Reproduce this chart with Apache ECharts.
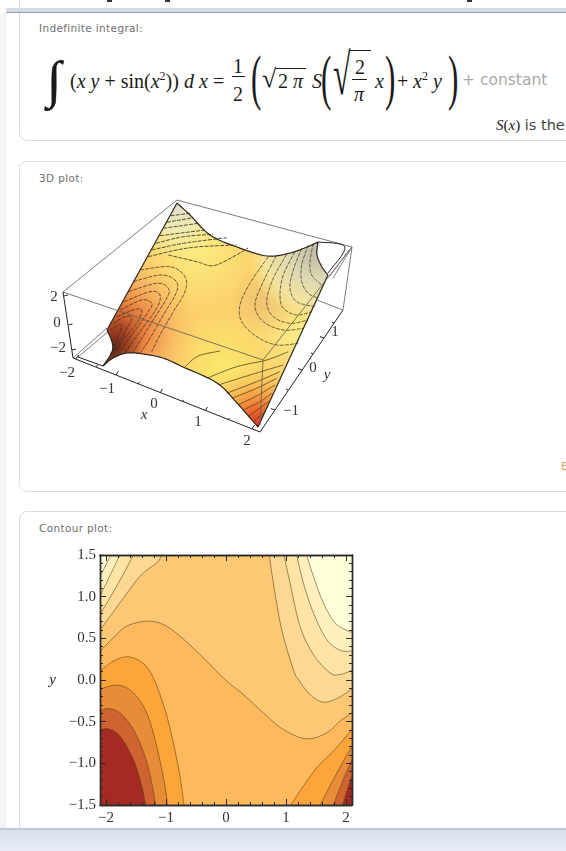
<!DOCTYPE html>
<html>
<head>
<meta charset="utf-8">
<script src="https://cdn.jsdelivr.net/npm/echarts@6/dist/echarts.min.js"></script>
<style>
  html, body { margin: 0; padding: 0; background: #fff; overflow: hidden; }
  #page { position: relative; width: 566px; height: 851px; overflow: hidden; background: #fff; filter: blur(0.4px); }
  #chart { position: absolute; left: 0; top: 0; width: 566px; height: 851px; }
  .leftstrip { position: absolute; left: 0; top: 13px; width: 6px; height: 815px; background: #f5f5f5; }
  .topbar { position: absolute; left: 6px; right: 0; top: 8px; height: 4px; background: #d6dce6; border-bottom: 1px solid #95a0ae; }
  .speck { position: absolute; top: 0; width: 5px; height: 2px; background: #333; }
  .card { position: absolute; left: 19px; width: 600px; border: 1px solid #dcdcdc; border-radius: 8px; box-sizing: border-box; }
  .title { position: absolute; left: 39px; font: 10.5px "DejaVu Sans", sans-serif; color: #6f6f6f; letter-spacing: 0.35px; white-space: pre; }
  .m { position: absolute; font-family: "Liberation Serif", serif; font-size: 20px; line-height: 1; color: #1a1a1a; white-space: pre; transform-origin: 0 50%; }
  .m sup { font-size: 12px; line-height: 0; }
  .big { font-size: 62px; transform: scaleX(.5); }
  .bar { position: absolute; background: #1a1a1a; height: 1px; }
  .gray { position: absolute; font: 15.5px "DejaVu Sans", sans-serif; color: #a9a9a9; white-space: pre; }
  .footer { position: absolute; left: 0; right: 0; top: 828px; height: 23px; border-top: 2px solid #c3cad3; box-sizing: border-box; background: linear-gradient(#d8dfee, #e8edf8); }
</style>
</head>
<body>
<div id="page">
  <div class="leftstrip"></div>
  <div class="speck" style="left:107px"></div>
  <div class="speck" style="left:165px"></div>
  <div class="speck" style="left:467px"></div>
  <div class="card" style="top:-20px;height:161px"></div>
  <div class="card" style="top:161px;height:331px"></div>
  <div class="card" style="top:511px;height:400px"></div>
  <div class="topbar"></div>

  <div class="title" style="top:22px">Indefinite integral:</div>
  <div class="title" style="top:172px">3D plot:</div>
  <div class="title" style="top:522px">Contour plot:</div>

  <div class="m" style="left:47px;top:54px;font-size:52px;font-style:italic;-webkit-text-stroke:0.4px #1a1a1a">∫</div>
  <div class="m" style="left:70px;top:71px">(<i>x y</i> + sin(<i>x</i><sup>2</sup>))</div>
  <div class="m" style="left:184px;top:71px"><i>d x</i> =</div>
  <div class="m" style="left:233px;top:56px">1</div>
  <div class="bar" style="left:232px;top:76px;width:13px"></div>
  <div class="m" style="left:233px;top:84px">2</div>
  <div class="m big" style="left:251px;top:46px">(</div>
  <div class="m" style="left:262px;top:66px;font-size:26px">√</div>
  <div class="bar" style="left:276px;top:68px;width:30px"></div>
  <div class="m" style="left:278px;top:71px">2 <i>π</i></div>
  <div class="m" style="left:312px;top:71px"><i>S</i></div>
  <div class="m big" style="left:321px;top:46px">(</div>
  <div class="m" style="left:333px;top:46px;font-size:58px;transform:scaleX(.55)">√</div>
  <div class="bar" style="left:349px;top:50px;width:22px"></div>
  <div class="m" style="left:355px;top:57px">2</div>
  <div class="bar" style="left:352px;top:79px;width:15px"></div>
  <div class="m" style="left:354px;top:84px"><i>π</i></div>
  <div class="m" style="left:375px;top:71px"><i>x</i></div>
  <div class="m big" style="left:385px;top:46px">)</div>
  <div class="m" style="left:397px;top:71px">+</div>
  <div class="m" style="left:413px;top:71px"><i>x</i><sup>2</sup> <i>y</i></div>
  <div class="m big" style="left:448px;top:46px">)</div>
  <div class="gray" style="left:462px;top:71px">+ constant</div>
  <div class="m" style="left:496px;top:117px;font-size:15px"><i>S</i>(<i>x</i>)<span style="font:14.5px 'DejaVu Sans',sans-serif;color:#444"> is the</span></div>
  <div class="title" style="left:561px;top:460px;color:#e39a5e;letter-spacing:0">E</div>

  <div id="chart"></div>
  <div class="footer"></div>
</div>

<script>
// tick labels of the contour plot
const xMajorTicks = [-2, -1, 0, 1, 2]
const xMinorTicks = [-1.8, -1.6, -1.4, -1.2, -0.8, -0.6, -0.4, -0.2, 0.2, 0.4, 0.6, 0.8, 1.2, 1.4, 1.6, 1.8]
const yMajorTicks = [-1.5, -1, -0.5, 0, 0.5, 1, 1.5]
const yMinorTicks = [-1.4, -1.3, -1.2, -1.1, -0.9, -0.8, -0.7, -0.6, -0.4, -0.3, -0.2, -0.1, 0.1, 0.2, 0.3, 0.4, 0.6, 0.7, 0.8, 0.9, 1.1, 1.2, 1.3, 1.4]

// contour lines, in (x, y)
const lineE = [[-2.1, 0.346], [-1.878, 0.506], [-1.655, 0.646], [-1.322, 0.706], [-1.045, 0.666], [-0.767, 0.526], [-0.433, 0.306], [-0.017, 0.006], [0.289, -0.174], [0.622, -0.394], [0.955, -0.594], [1.344, -0.706], [1.678, -0.634], [1.9, -0.494], [2.1, -0.394]]
const lineF = [[-2.1, 0.106], [-1.878, 0.226], [-1.628, 0.278], [-1.378, 0.198], [-1.211, 0.026], [-1.017, -0.354], [-0.878, -0.754], [-0.767, -1.154], [-0.7, -1.5]]
const lineG = [[-2.1, -0.106], [-1.794, -0.062], [-1.544, -0.154], [-1.322, -0.394], [-1.155, -0.794], [-1.017, -1.274], [-0.978, -1.5]]
const lineH = [[-2.1, -0.374], [-1.961, -0.342], [-1.767, -0.394], [-1.544, -0.594], [-1.35, -0.914], [-1.238, -1.234], [-1.172, -1.5]]
const lineI = [[-2.1, -0.602], [-1.961, -0.586], [-1.767, -0.674], [-1.544, -0.954], [-1.405, -1.274], [-1.339, -1.5]]
const lineA = [[-1.92, 1.5], [-2.1, 1.24]]
const lineB = [[-1.767, 1.5], [-1.95, 1.23], [-2.1, 1.006]]
const lineC = [[-1.544, 1.5], [-1.79, 1.166], [-2.1, 0.786]]
const lineD = [[-1.07, 1.5], [-1.155, 1.406], [-1.433, 1.245], [-1.767, 0.926], [-2.1, 0.598]]
const lineR1 = [[0.722, 1.5], [0.789, 1.166], [0.928, 0.606], [1.122, 0.126], [1.206, 0.006], [1.4, -0.174], [1.622, -0.266], [1.872, -0.214], [2.1, -0.106]]
const lineR2 = [[0.967, 1.5], [1.067, 1.166], [1.233, 0.646], [1.456, 0.306], [1.733, 0.086], [1.9, 0.066], [2.1, 0.114]]
const lineR3 = [[1.178, 1.5], [1.289, 1.166], [1.456, 0.806], [1.678, 0.486], [1.9, 0.358], [2.1, 0.346]]
const lineR4 = [[1.344, 1.5], [1.456, 1.246], [1.622, 0.926], [1.817, 0.686], [2.04, 0.586], [2.1, 0.58]]
const lineB1 = [[1.083, -1.5], [1.233, -1.334], [1.511, -1.054], [1.789, -0.854], [2.1, -0.594]]
const lineB2 = [[1.567, -1.5], [1.789, -1.194], [1.956, -0.974], [2.1, -0.794]]
const lineB3 = [[1.789, -1.5], [1.956, -1.194], [2.1, -0.954]]
const lineB4 = [[1.944, -1.5], [2.04, -1.274], [2.1, -1.154]]

// 3D plot, in the projected plane of the plot
const surfaceTop = [[137, 13], [150, 25], [170, 45], [197, 57], [227, 66], [250, 63], [267, 57], [278, 52]]
const surfaceHoleRight = [[278, 52], [277, 65], [282, 77], [288, 85]]
const surfaceEdgeRight = [[288, 85], [218, 237]]
const surfaceBottom = [[218, 237], [197, 213], [177, 193], [143, 177], [123, 168], [103, 164], [87, 163], [73, 168], [63, 176]]
const surfaceHoleLeft = [[63, 176], [72, 162], [72, 152], [67, 140]]
const surfaceEdgeLeft = [[67, 140], [137, 13]]

const meshTop = [
  [[130.7, 25.7], [150, 23.3]],
  [[126.7, 32.3], [153.3, 27.7]],
  [[123.3, 38.3], [158.3, 33.3]],
  [[120, 45.7], [165, 40]],
  [[116, 53.3], [143.3, 46.7], [173.3, 44.3]],
  [[111.7, 60], [143.3, 53.3], [186.7, 47.7]],
  [[108.3, 66.7], [136.7, 60], [160, 56.7], [196.7, 55]],
  [[128.3, 65], [156.7, 71.7], [173.3, 75.7], [193.3, 66.7], [208, 58]]
]
const meshLeft = [
  [[100, 80], [130, 76.7], [145, 86.7], [145, 101.7], [133.3, 121.7], [120, 145], [111.7, 161.7]],
  [[93.3, 91.7], [120, 85], [135, 90], [136.7, 101.7], [123.3, 125], [110, 148.3], [100, 163.3]],
  [[88.3, 101.7], [116.7, 93.3], [128.3, 98.3], [126.7, 108.3], [110, 135], [93.3, 161.7]],
  [[84, 111.7], [110, 101.7], [120, 105], [116.7, 118.3], [100, 141.7], [85, 162.3]],
  [[80, 120], [101.7, 110], [111.7, 113.3], [108.3, 121.7], [91.7, 145], [78.3, 163.3]],
  [[76.7, 126.7], [93.3, 120], [101.7, 120], [96.7, 133.3], [81.7, 151.7], [73.3, 166.7]],
  [[73.3, 133.3], [85, 126.7], [91.7, 128.3], [85, 141.7], [75, 160]],
  [[70, 140], [78.3, 135], [81.7, 136.7], [76.7, 150], [70, 165]]
]
const meshRight = [
  [[228.3, 66.7], [210, 93.3], [200, 115], [201.7, 131.7], [216.7, 146.7], [236.7, 155], [258.3, 153.3]],
  [[236.7, 65], [223.3, 91.7], [215, 115], [223.3, 131.7], [243.3, 140], [263.3, 138.3]],
  [[246.7, 64.3], [233.3, 88.3], [226.7, 111.7], [233.3, 126.7], [250, 133.3], [268.3, 130]],
  [[255, 61.7], [243.3, 85], [240, 105], [243.3, 118.3], [256.7, 125], [271.7, 121.7]],
  [[261.7, 58.3], [253.3, 80], [250, 98.3], [256.7, 111.7], [275, 116.7]],
  [[268.3, 55], [261.7, 75], [261.7, 91.7], [268.3, 103.3], [278.3, 108.3]],
  [[273.3, 53.3], [270, 71.7], [271.7, 85], [281.7, 95]]
]
const meshBottom = [
  [[145, 176.7], [158.3, 166], [180, 161]],
  [[166.7, 188.3], [196.7, 176.7], [226.7, 170], [248.3, 161.7]],
  [[178.3, 195], [210, 185], [243.3, 175]],
  [[186.7, 203.3], [216.7, 191.7], [240, 181.7]],
  [[191.7, 208.3], [216.7, 198.3], [236.7, 188.3]],
  [[198.3, 215], [218.3, 205], [235, 195]],
  [[203.3, 220], [220, 211.7], [231.7, 203.3]],
  [[208.3, 226.7], [228.3, 211.7]],
  [[213.3, 231.7], [225, 221.7]]
]
const boxBehind = [
  [[23, 102], [137, 10]], [[137, 10], [312, 57]], [[312, 57], [303, 120]], [[303, 120], [277, 110]],
  [[33, 168], [67, 138]], [[38, 167], [69, 141]], [[293, 88], [312, 57]], [[290, 86], [309, 60]]
]
const boxOver = [[[23, 102], [223, 170]], [[223, 170], [312, 57]], [[223, 170], [220, 235]]]
const boxAxes = [
  [[23, 102], [33, 168]], [[33, 168], [220, 242]], [[220, 242], [303, 120]],
  [[278, 52], [305, 57], [288, 83]], [[38, 167], [63, 176]],
  [[24, 106], [28, 105]], [[28.5, 135], [32.5, 134]], [[32, 160], [36, 159]],
  [[36, 169], [38.5, 165]], [[76, 185], [78.5, 181]], [[120, 203], [122.5, 199]], [[165, 221], [167.5, 217]], [[212, 239], [214.5, 235]],
  [[56, 177], [57.5, 175]], [[98, 194], [99.5, 192]], [[142, 212], [143.5, 210]], [[188, 230], [189.5, 228]],
  [[235, 220], [231, 218.5]], [[262, 180], [258, 178.5]], [[284, 148], [280, 146.5]],
  [[248, 200], [246, 199]], [[273, 164], [271, 163]], [[294, 133], [292, 132]]
]
const plotLabels = ['2', '0', '−2', '−2', '−1', '0', 'x', '1', '2', '1', '0', 'y', '−1']
const plotLabelPos = [[14, 107], [17, 133], [18, 158], [27, 183], [67, 199], [114, 214], [104, 225], [158, 232], [207, 251], [295, 142], [273, 178], [287, 185], [251, 221]]

const contourBands = [
  { line: lineE, corners: [[2.1, -1.5], [-2.1, -1.5]], color: '#fdb95c' },
  { line: lineF, corners: [[-2.1, -1.5]], color: '#fda53b' },
  { line: lineG, corners: [[-2.1, -1.5]], color: '#e98c38' },
  { line: lineH, corners: [[-2.1, -1.5]], color: '#cf6431' },
  { line: lineI, corners: [[-2.1, -1.5]], color: '#a52a24' },
  { line: lineB1, corners: [[2.1, -1.5]], color: '#fda53b' },
  { line: lineB2, corners: [[2.1, -1.5]], color: '#e98c38' },
  { line: lineB3, corners: [[2.1, -1.5]], color: '#cf6431' },
  { line: lineB4, corners: [[2.1, -1.5]], color: '#a52a24' },
  { line: lineD, corners: [[-2.1, 1.5]], color: '#fdd892' },
  { line: lineC, corners: [[-2.1, 1.5]], color: '#fee4a6' },
  { line: lineB, corners: [[-2.1, 1.5]], color: '#fef0bc' },
  { line: lineA, corners: [[-2.1, 1.5]], color: '#ffffdc' },
  { line: lineR1, corners: [[2.1, 1.5]], color: '#fdd892' },
  { line: lineR2, corners: [[2.1, 1.5]], color: '#fee4a6' },
  { line: lineR3, corners: [[2.1, 1.5]], color: '#fef0bc' },
  { line: lineR4, corners: [[2.1, 1.5]], color: '#ffffdc' }
]

// shading of the surface, spot centre and radius in the projected plane
const surfaceShades = [
  { at: [160, 62], r: 60, stops: [[0, 'rgba(250,240,130,0.85)'], [1, 'rgba(250,240,130,0)']] },
  { at: [183, 175], r: 60, stops: [[0, 'rgba(251,236,110,0.8)'], [1, 'rgba(251,236,110,0)']] },
  { at: [257, 145], r: 45, stops: [[0, 'rgba(250,240,140,0.9)'], [1, 'rgba(250,240,140,0)']] },
  { at: [78, 140], r: 85, stops: [[0, 'rgba(178,74,42,1)'], [0.18, 'rgba(205,100,48,1)'], [0.38, 'rgba(238,138,68,0.95)'], [0.62, 'rgba(246,176,96,0.8)'], [1, 'rgba(252,210,105,0)']] },
  { at: [72, 158], r: 32, stops: [[0, 'rgba(90,35,25,1)'], [0.5, 'rgba(140,50,30,0.75)'], [1, 'rgba(170,65,35,0)']] },
  { at: [218, 235], r: 60, stops: [[0, 'rgba(223,58,40,1)'], [0.3, 'rgba(240,112,47,1)'], [0.6, 'rgba(249,172,74,0.85)'], [1, 'rgba(251,210,100,0)']] },
  { at: [137, 15], r: 55, stops: [[0, 'rgba(225,222,205,1)'], [0.5, 'rgba(240,236,180,0.9)'], [1, 'rgba(248,238,150,0)']] },
  { at: [223, 112], r: 35, stops: [[0, 'rgba(232,190,120,0.7)'], [1, 'rgba(232,190,120,0)']] },
  { at: [277, 62], r: 70, stops: [[0, 'rgba(190,186,165,1)'], [0.4, 'rgba(222,216,180,1)'], [0.75, 'rgba(240,232,170,0.8)'], [1, 'rgba(248,238,150,0)']] }
]

// catmull-rom through the read points, only to draw them as a curve
const smooth = pts => {
  if (pts.length < 3) return pts
  const out = []
  for (let i = 0; i < pts.length - 1; i++) {
    const p0 = pts[Math.max(i - 1, 0)], p1 = pts[i], p2 = pts[i + 1], p3 = pts[Math.min(i + 2, pts.length - 1)]
    for (let k = 0; k < 8; k++) {
      const t = k / 8, t2 = t * t, t3 = t2 * t
      out.push([0, 1].map(d => 0.5 * (2 * p1[d] + (p2[d] - p0[d]) * t + (2 * p0[d] - 5 * p1[d] + 4 * p2[d] - p3[d]) * t2 + (3 * p1[d] - p0[d] - 3 * p2[d] + p3[d]) * t3)))
    }
  }
  out.push(pts[pts.length - 1])
  return out
}
const toPx = (api, pts) => pts.map(p => api.coord(p))

const serifFont = 'Liberation Serif'
const minusLabel = v => String(v).replace('-', '−')
const frameLine = { onZero: false, lineStyle: { color: '#2a2a2a', width: 1.4 } }

// axes sit above the filled bands, the frame and its ticks stay visible
const contourAxisBase = { type: 'value', gridIndex: 0, z: 10, min: -2.1, max: 2.1, splitLine: { show: false }, axisLine: frameLine }
const contourYBase = { type: 'value', gridIndex: 0, z: 10, min: -1.5, max: 1.5, splitLine: { show: false }, axisLine: frameLine }
const xTicks = (position, values, length) => ({ ...contourAxisBase, position, axisLabel: { show: false }, axisTick: { inside: true, length, customValues: values, lineStyle: { color: '#2a2a2a' } } })
const yTicks = (position, values, length) => ({ ...contourYBase, position, axisLabel: { show: false }, axisTick: { inside: true, length, customValues: values, lineStyle: { color: '#2a2a2a' } } })

const chart = echarts.init(document.getElementById('chart'))

const lineSeries = (name, lines, style) => ({
  name,
  type: 'custom',
  xAxisIndex: 4,
  yAxisIndex: 4,
  coordinateSystem: 'cartesian2d',
  silent: true,
  clip: false,
  data: lines.map((l, i) => [i]),
  renderItem: (params, api) => ({
    type: 'polyline',
    shape: { points: smooth(toPx(api, lines[params.dataIndex])) },
    style: { fill: 'none', ...style }
  })
})

chart.setOption({
  animation: false,
  tooltip: { show: false },
  grid: [
    { left: 100, top: 555, width: 252, height: 250, show: true, backgroundColor: '#fdc874', borderWidth: 0 },
    { left: 40, top: 190, width: 330, height: 260 }
  ],
  xAxis: [
    {
      ...contourAxisBase,
      position: 'bottom',
      axisTick: { inside: true, length: 6, customValues: xMajorTicks, lineStyle: { color: '#2a2a2a' } },
      axisLabel: { customValues: xMajorTicks, formatter: minusLabel, fontFamily: serifFont, fontSize: 15, color: '#333', margin: 6 }
    },
    xTicks('bottom', xMinorTicks, 3),
    xTicks('top', xMajorTicks, 6),
    xTicks('top', xMinorTicks, 3),
    { type: 'value', gridIndex: 1, min: 0, max: 330, show: false }
  ],
  yAxis: [
    {
      ...contourYBase,
      position: 'left',
      name: 'y',
      nameLocation: 'middle',
      nameRotate: 0,
      nameGap: 44,
      nameTextStyle: { fontFamily: serifFont, fontStyle: 'italic', fontSize: 15, color: '#222' },
      axisTick: { inside: true, length: 6, customValues: yMajorTicks, lineStyle: { color: '#2a2a2a' } },
      axisLabel: { customValues: yMajorTicks, formatter: v => minusLabel(v.toFixed(1)), fontFamily: serifFont, fontSize: 15, color: '#333', margin: 4 }
    },
    yTicks('left', yMinorTicks, 3),
    yTicks('right', yMajorTicks, 6),
    yTicks('right', yMinorTicks, 3),
    { type: 'value', gridIndex: 1, min: 0, max: 260, inverse: true, show: false }
  ],
  series: [
    {
      name: 'Contour plot',
      type: 'custom',
      coordinateSystem: 'cartesian2d',
      xAxisIndex: 0,
      yAxisIndex: 0,
      silent: true,
      clip: true,
      z: 1,
      data: contourBands.map((b, i) => [i]),
      renderItem: (params, api) => {
        const band = contourBands[params.dataIndex]
        const edge = smooth(toPx(api, band.line))
        return {
          type: 'group',
          children: [
            { type: 'polygon', shape: { points: edge.concat(toPx(api, band.corners)) }, style: { fill: band.color } },
            { type: 'polyline', shape: { points: edge }, style: { fill: 'none', stroke: 'rgba(80,60,25,0.55)', lineWidth: 1 } }
          ]
        }
      }
    },
    lineSeries('Box behind', boxBehind, { stroke: '#7d7d7d', lineWidth: 1 }),
    {
      name: '3D surface',
      type: 'custom',
      coordinateSystem: 'cartesian2d',
      xAxisIndex: 4,
      yAxisIndex: 4,
      silent: true,
      clip: false,
      data: [[0]].concat(surfaceShades.map((s, i) => [i + 1])),
      renderItem: (params, api) => {
        const outline = [surfaceTop, surfaceHoleRight, surfaceEdgeRight, surfaceBottom, surfaceHoleLeft, surfaceEdgeLeft]
          .reduce((all, part) => all.concat(smooth(toPx(api, part))), [])
        let fill = '#fcd06a'
        if (params.dataIndex > 0) {
          const shade = surfaceShades[params.dataIndex - 1]
          const c = api.coord(shade.at)
          fill = new echarts.graphic.RadialGradient(c[0], c[1], shade.r, shade.stops.map(s => ({ offset: s[0], color: s[1] })), true)
        }
        return { type: 'polygon', shape: { points: outline }, style: { fill } }
      }
    },
    lineSeries('Surface mesh top', meshTop, { stroke: 'rgba(45,42,25,0.8)', lineWidth: 1, lineDash: [4, 1.2] }),
    lineSeries('Surface mesh left', meshLeft, { stroke: 'rgba(60,45,25,0.75)', lineWidth: 1, lineDash: [4, 1.2] }),
    lineSeries('Surface mesh right', meshRight, { stroke: 'rgba(60,55,30,0.75)', lineWidth: 1, lineDash: [4, 1.2] }),
    lineSeries('Surface mesh bottom', meshBottom, { stroke: 'rgba(85,70,30,0.8)', lineWidth: 1 }),
    lineSeries('Surface edge', [surfaceTop, surfaceHoleRight, surfaceEdgeRight, surfaceBottom, surfaceHoleLeft, surfaceEdgeLeft], { stroke: '#2b2620', lineWidth: 1.2 }),
    lineSeries('Box over', boxOver, { stroke: 'rgba(100,100,80,0.85)', lineWidth: 1 }),
    lineSeries('Box axes', boxAxes, { stroke: '#222', lineWidth: 1 }),
    {
      name: '3D labels',
      type: 'custom',
      coordinateSystem: 'cartesian2d',
      xAxisIndex: 4,
      yAxisIndex: 4,
      silent: true,
      clip: false,
      data: plotLabels.map((l, i) => [i]),
      renderItem: (params, api) => {
        const text = plotLabels[params.dataIndex]
        const c = api.coord(plotLabelPos[params.dataIndex])
        return {
          type: 'text',
          x: c[0],
          y: c[1],
          style: {
            text,
            fill: '#333',
            align: 'center',
            verticalAlign: 'middle',
            font: (text === 'x' || text === 'y' ? 'italic ' : '') + '15px "Liberation Serif"'
          }
        }
      }
    }
  ]
})
</script>
</body>
</html>
